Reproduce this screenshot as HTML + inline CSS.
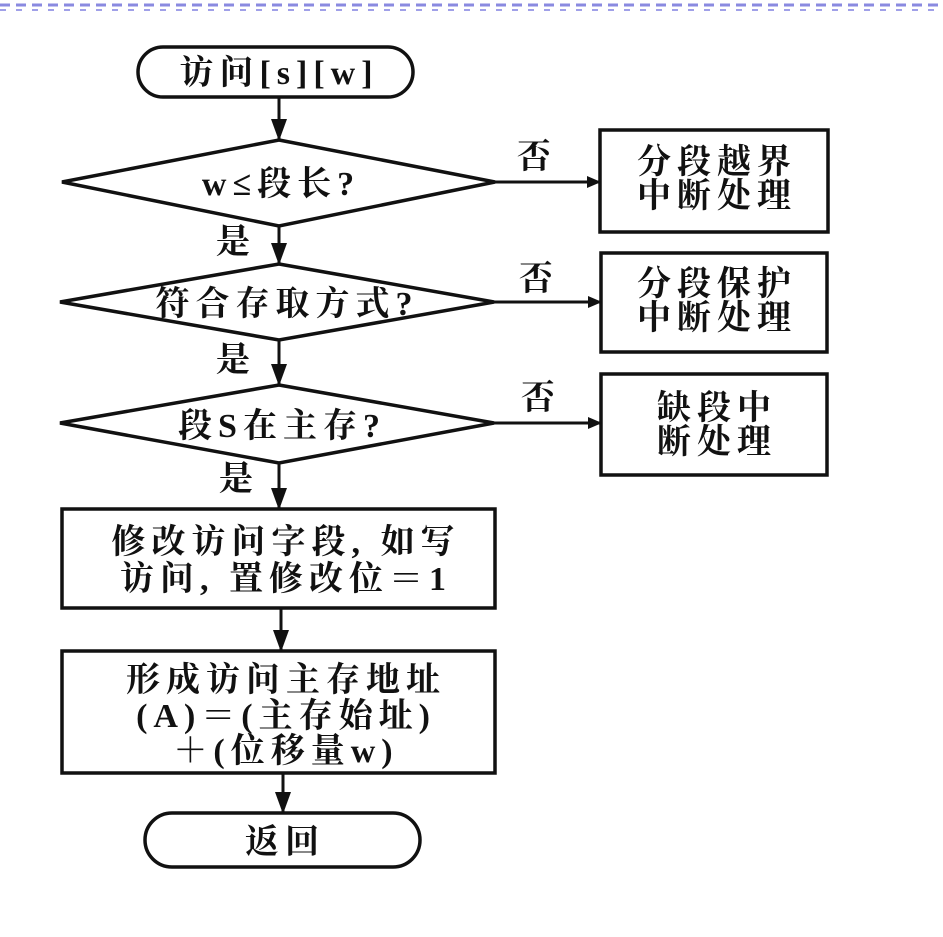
<!DOCTYPE html>
<html><head><meta charset="utf-8"><style>
html,body{margin:0;padding:0;background:#fff;}
svg{display:block;}
text{font-family:"Liberation Serif","Noto Serif CJK SC","Noto Sans CJK SC",serif;font-weight:bold;fill:#111;}
</style></head><body>
<svg width="943" height="937" viewBox="0 0 943 937" xmlns="http://www.w3.org/2000/svg">
<defs><marker id="a" markerWidth="14" markerHeight="12" refX="13" refY="6" orient="auto" markerUnits="userSpaceOnUse"><path d="M0,0 L14,6 L0,12 Z" fill="#111"/></marker>
<marker id="d" markerWidth="16" markerHeight="22" refX="8" refY="21" orient="0" markerUnits="userSpaceOnUse"><path d="M0,0 L16,0 L8,22 Z" fill="#111"/></marker></defs>
<line x1="0" y1="5" x2="943" y2="5" stroke="#8a8ae0" stroke-width="3" stroke-dasharray="10,6"/>
<line x1="0" y1="10" x2="943" y2="10" stroke="#a0a0e8" stroke-width="2" stroke-dasharray="6,10"/>
<g stroke="#111" stroke-width="3.5" fill="none">
<rect x="138" y="47" width="275" height="50" rx="25"/>
<polygon points="279,140 495,182 279,226 62,182"/>
<polygon points="279,264 494,302 279,340 60,302"/>
<polygon points="279,385 494,423 279,463 60,423"/>
<rect x="600" y="130" width="228" height="102"/>
<rect x="601" y="253" width="226" height="99"/>
<rect x="601" y="374" width="226" height="101"/>
<rect x="62" y="509" width="433" height="99"/>
<rect x="62" y="651" width="433" height="122"/>
<rect x="145" y="813" width="275" height="54" rx="27"/>
<g stroke-width="3">
<line x1="279" y1="97" x2="279" y2="140" marker-end="url(#d)"/>
<line x1="279" y1="226" x2="279" y2="264" marker-end="url(#d)"/>
<line x1="279" y1="340" x2="279" y2="385" marker-end="url(#d)"/>
<line x1="279" y1="463" x2="279" y2="509" marker-end="url(#d)"/>
<line x1="281" y1="608" x2="281" y2="651" marker-end="url(#d)"/>
<line x1="283" y1="773" x2="283" y2="813" marker-end="url(#d)"/>
<line x1="495" y1="182" x2="600" y2="182" marker-end="url(#a)"/>
<line x1="494" y1="302" x2="601" y2="302" marker-end="url(#a)"/>
<line x1="494" y1="423" x2="601" y2="423" marker-end="url(#a)"/>
</g></g>
<g font-size="34" text-anchor="middle" letter-spacing="6">
<text x="279" y="84">访问[s][w]</text>
<text x="281" y="195">w≤段长?</text>
<text x="287" y="315">符合存取方式?</text>
<text x="282" y="437">段S在主存?</text>
<text x="717" y="173">分段越界</text>
<text x="717" y="207">中断处理</text>
<text x="717" y="295">分段保护</text>
<text x="717" y="329">中断处理</text>
<text x="717" y="419">缺段中</text>
<text x="717" y="453">断处理</text>
<text x="286" y="553">修改访问字段, 如写</text>
<text x="286" y="590">访问, 置修改位＝1</text>
<text x="286" y="691">形成访问主存地址</text>
<text x="286" y="727">(A)＝(主存始址)</text>
<text x="286" y="762">＋(位移量w)</text>
<text x="285" y="853">返回</text>
<text x="537" y="168">否</text>
<text x="539" y="290">否</text>
<text x="541" y="409">否</text>
<text x="236" y="253">是</text>
<text x="236" y="371">是</text>
<text x="239" y="490">是</text>
</g>
</svg>
</body></html>
